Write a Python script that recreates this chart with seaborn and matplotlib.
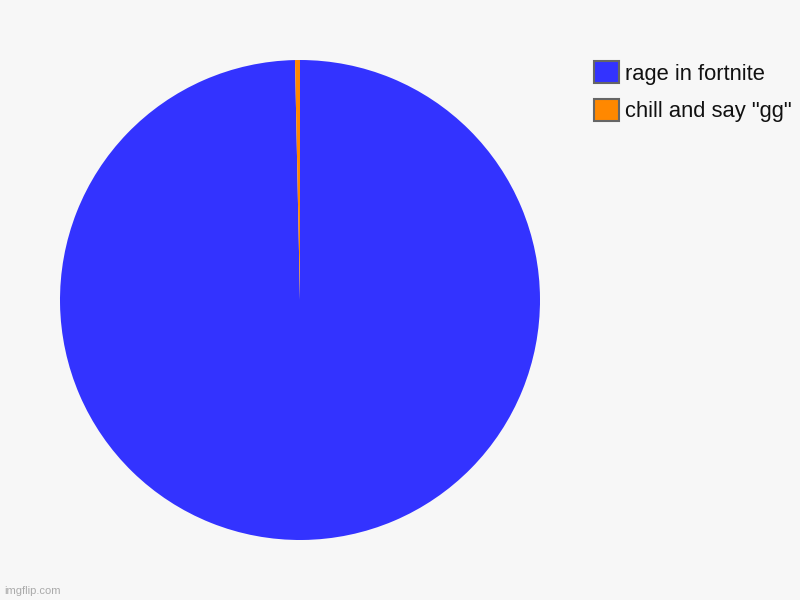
import matplotlib
matplotlib.use("Agg")
import matplotlib.pyplot as plt
import seaborn as sns
from matplotlib.patches import Patch

# chart data
labels = ['rage in fortnite', 'chill and say "gg"']
values = [300, 1]
colors = ['#3333ff', '#ff8800']

sns.set_style("white")
plt.rcParams['font.family'] = ['Liberation Sans', 'DejaVu Sans']

bg = '#f7f7f7'
fig = plt.figure(figsize=(8, 6), dpi=100, facecolor=bg)

# pie area: centre (300, 300), radius 240 in pixels
ax = fig.add_axes([60 / 800, 60 / 600, 480 / 800, 480 / 600])
ax.set_facecolor(bg)
ax.pie(values, colors=colors, startangle=90, counterclock=False,
       radius=1.0, wedgeprops={'linewidth': 0})
ax.set_xlim(-1, 1)
ax.set_ylim(-1, 1)
ax.set_aspect('equal')
ax.axis('off')

handles = [Patch(facecolor=c, edgecolor='#666666', linewidth=1.5) for c in colors]
fig.legend(handles, labels, loc='upper left', bbox_to_anchor=(585 / 800, 1 - 52.5 / 600),
           frameon=False, fontsize=15.8, handlelength=1.15, handleheight=1.15,
           handletextpad=0.28, labelspacing=0.66, borderaxespad=0,
           labelcolor='#111111')

fig.text(4 / 800, 1 - 591 / 600, 'imgflip.com', fontsize=8, color='#aaaaaa',
         va='center', ha='left')

fig.savefig('out.png', dpi=100, facecolor=bg)
